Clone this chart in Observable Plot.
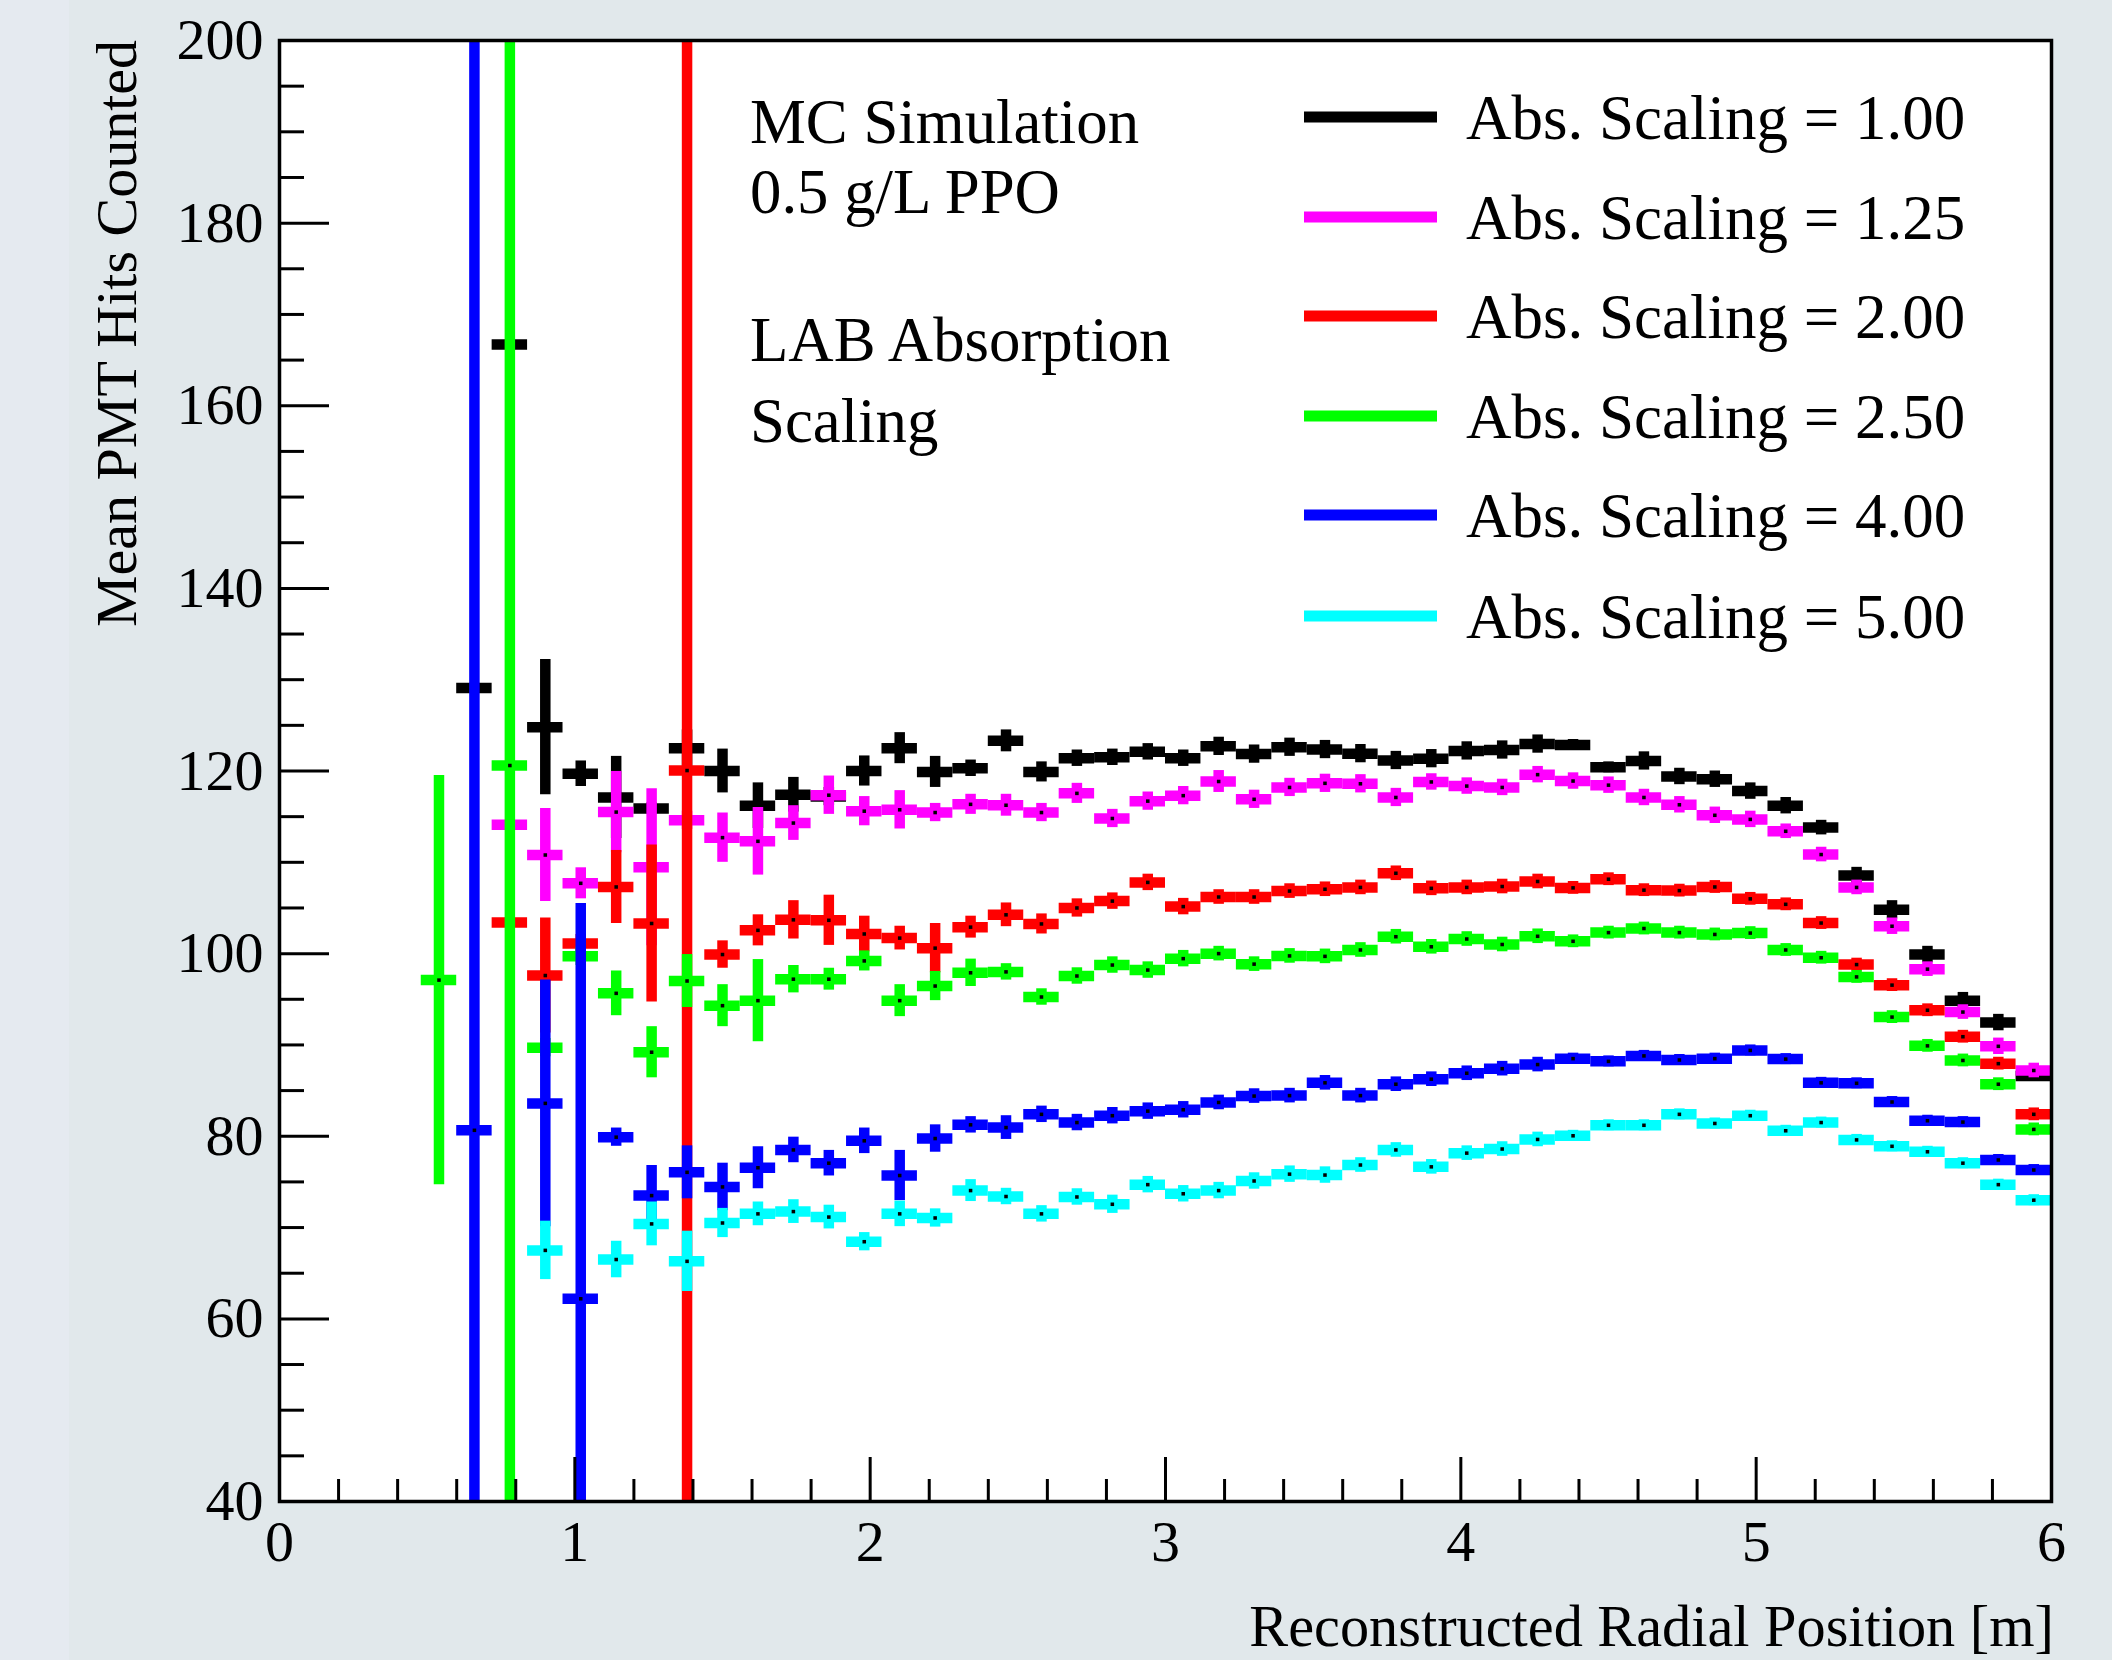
<!DOCTYPE html>
<html>
<head>
<meta charset="utf-8">
<script src="https://cdn.jsdelivr.net/npm/d3@7"></script>
<script src="https://cdn.jsdelivr.net/npm/@observablehq/plot@0.6"></script>
<style>
  html, body { margin: 0; padding: 0; background: #e1e8eb; }
  #chart { width: 2112px; height: 1660px; }
</style>
</head>
<body>
<div id="chart"></div>
<script>
// ---- data ----
const binCenters = [0.54,0.66,0.78,0.90,1.02,1.14,1.26,1.38,1.50,1.62,1.74,1.86,1.98,2.10,2.22,2.34,2.46,2.58,2.70,2.82,2.94,3.06,3.18,3.30,3.42,3.54,3.66,3.78,3.90,4.02,4.14,4.26,4.38,4.50,4.62,4.74,4.86,4.98,5.10,5.22,5.34,5.46,5.58,5.70,5.82,5.94];
const binHalfWidth = 0.06;

const seriesLabels = ["Abs. Scaling = 1.00","Abs. Scaling = 1.25","Abs. Scaling = 2.00","Abs. Scaling = 2.50","Abs. Scaling = 4.00","Abs. Scaling = 5.00"];
const seriesColors = ["#000000","#ff00ff","#ff0000","#00ff00","#0000ff","#00ffff"];

const hits100 = [null,129.1,166.7,124.8,119.7,117.1,115.9,122.5,120.0,116.2,117.4,117.2,120.0,122.5,119.9,120.3,123.3,119.9,121.4,121.5,122.1,121.4,122.7,121.85,122.6,122.35,121.9,121.15,121.35,122.2,122.3,122.95,122.85,120.4,121.1,119.4,119.1,117.8,116.2,113.8,108.55,104.8,99.9,94.85,92.45,86.6];
const err100  = [null,0.5,0.5,7.4,1.4,4.5,0.6,2.0,2.4,2.5,1.9,1.0,1.65,1.7,1.7,0.9,1.2,1.1,0.9,0.9,0.9,0.9,1.0,1.0,1.0,1.0,1.0,1.0,1.0,1.0,1.0,1.0,0.6,0.6,1.0,0.9,0.9,0.9,0.9,0.8,0.9,1.0,0.9,0.9,0.9,0.6];

const hits125 = [null,null,114.1,110.8,107.7,115.5,109.45,114.6,112.7,112.3,114.3,117.35,115.6,115.75,115.45,116.35,116.25,115.45,117.55,114.8,116.7,117.3,118.85,116.9,118.2,118.65,118.6,117.1,118.8,118.35,118.2,119.6,118.9,118.45,117.1,116.3,115.15,114.7,113.4,110.85,107.25,103.0,98.3,93.6,89.85,87.2];
const err125  = [null,null,0.5,5.1,1.7,4.45,8.6,1.0,2.7,3.7,1.9,2.1,1.6,2.1,1.0,1.1,1.2,1.0,1.1,1.0,1.0,1.0,1.2,1.0,1.0,1.0,1.0,1.0,0.9,0.9,0.9,0.9,0.9,0.9,0.9,0.9,0.9,0.9,0.8,0.8,0.8,0.9,0.8,0.8,0.9,0.8];

const hits200 = [null,null,103.4,97.6,101.1,107.3,103.3,120.05,99.9,102.55,103.7,103.65,102.15,101.7,100.6,102.9,104.25,103.25,105.0,105.75,107.8,105.15,106.2,106.2,106.85,107.05,107.25,108.8,107.15,107.25,107.35,107.9,107.2,108.15,106.95,106.9,107.3,106.0,105.4,103.35,98.8,96.55,93.8,90.9,87.95,82.4];
const err200  = [null,null,0.5,6.3,1.0,4.0,8.6,200,1.5,1.7,2.1,2.75,1.95,1.3,2.7,1.2,1.3,1.1,1.0,0.9,0.9,0.9,0.8,0.8,0.8,0.8,0.8,0.8,0.8,0.8,0.8,0.8,0.7,0.7,0.7,0.7,0.7,0.7,0.7,0.7,0.7,0.7,0.7,0.7,0.7,0.7];

const hits250 = [97.1,null,120.6,89.7,99.7,95.65,89.2,97.0,94.3,94.85,97.2,97.2,99.2,94.85,96.45,97.9,98.0,95.25,97.55,98.75,98.2,99.45,100.0,98.85,99.75,99.7,100.4,101.85,100.75,101.6,101.0,101.9,101.35,102.3,102.75,102.3,102.1,102.25,100.4,99.55,97.45,93.05,89.9,88.3,85.7,80.75];
const err250  = [22.4,null,200,1.0,1.0,2.45,2.8,2.9,2.3,4.5,1.5,1.2,1.1,1.75,1.6,1.5,0.9,0.9,0.9,0.9,0.9,0.9,0.8,0.8,0.8,0.8,0.8,0.8,0.8,0.8,0.8,0.8,0.7,0.7,0.7,0.7,0.7,0.7,0.7,0.7,0.7,0.7,0.7,0.7,0.7,0.7];

const hits400 = [null,80.65,null,83.6,62.2,79.9,73.5,76.05,74.45,76.55,78.5,77.05,79.5,75.7,79.75,81.25,80.95,82.4,81.5,82.25,82.75,82.9,83.7,84.4,84.45,85.85,84.45,85.7,86.25,86.9,87.4,87.85,88.5,88.2,88.8,88.35,88.5,89.4,88.45,85.85,85.8,83.75,81.7,81.55,77.4,76.3];
const err400  = [null,200,null,13.5,43.3,1.0,3.3,2.9,2.6,2.3,1.4,1.4,1.4,2.75,1.5,0.9,1.3,0.9,0.9,0.9,0.9,0.9,0.8,0.8,0.8,0.8,0.8,0.8,0.8,0.8,0.8,0.8,0.6,0.6,0.6,0.6,0.6,0.6,0.6,0.6,0.6,0.6,0.6,0.6,0.6,0.6];

const hits500 = [null,null,null,67.5,null,66.5,70.4,66.3,70.5,71.5,71.75,71.15,68.45,71.5,71.05,74.05,73.4,71.5,73.35,72.55,74.7,73.7,74.05,75.1,75.85,75.75,76.85,78.5,76.65,78.15,78.6,79.65,80.05,81.2,81.2,82.4,81.4,82.25,80.6,81.5,79.6,78.9,78.3,77.05,74.7,73.0];
const err500  = [null,null,null,3.2,null,2.0,2.4,3.3,1.6,1.3,1.3,1.3,1.0,1.4,1.0,1.2,0.9,0.9,0.9,1.0,0.9,0.9,0.9,0.9,0.9,0.9,0.8,0.8,0.8,0.8,0.8,0.8,0.6,0.6,0.6,0.6,0.6,0.6,0.6,0.6,0.6,0.6,0.6,0.6,0.6,0.6];

const xTicks = [0,1,2,3,4,5,6];
const xMinorTicks = [0.2,0.4,0.6,0.8,1.2,1.4,1.6,1.8,2.2,2.4,2.6,2.8,3.2,3.4,3.6,3.8,4.2,4.4,4.6,4.8,5.2,5.4,5.6,5.8];
const yTicks = [40,60,80,100,120,140,160,180,200];
const yMinorTicks = [45,50,55,65,70,75,85,90,95,105,110,115,125,130,135,145,150,155,165,170,175,185,190,195];

const annotationLines = ["MC Simulation","0.5 g/L PPO","LAB Absorption","Scaling"];
const xTitle = "Reconstructed Radial Position [m]";
const yTitle = "Mean PMT Hits Counted";

// ---- build tables ----
const xDomain = [0, 6], yDomain = [40, 200];
const seriesValues = [hits100, hits125, hits200, hits250, hits400, hits500];
const seriesErrors = [err100, err125, err200, err250, err400, err500];

function rowsFor(k) {
  const rows = [];
  seriesValues[k].forEach((v, i) => {
    if (v == null) return;
    const e = seriesErrors[k][i];
    const x = binCenters[i];
    rows.push({x, v, x1: x - binHalfWidth, x2: x + binHalfWidth,
      lo: Math.max(yDomain[0], v - e), hi: Math.min(yDomain[1], v + e)});
  });
  return rows;
}

const LW = 10.5;
const marks = [Plot.frame({fill: "white", stroke: null})];
seriesLabels.forEach((lab, k) => {
  const rows = rowsFor(k);
  marks.push(Plot.ruleY(rows, {y: "v", x1: "x1", x2: "x2", stroke: seriesColors[k], strokeWidth: LW}));
  marks.push(Plot.ruleX(rows, {x: "x", y1: "lo", y2: "hi", stroke: seriesColors[k], strokeWidth: LW}));
  marks.push(Plot.dot(rows, {x: "x", y: "v", symbol: "square", r: 2, fill: "black", stroke: null}));
});
marks.push(
  Plot.axisX(xTicks, {tickSize: 0, tickPadding: 18, fontSize: 58, label: null, tickFormat: d => String(d)}),
  Plot.axisX(xTicks, {tickSize: -44, tickFormat: () => "", label: null, strokeWidth: 3}),
  Plot.axisX(xMinorTicks, {tickSize: -22, tickFormat: () => "", label: null, strokeWidth: 3}),
  Plot.axisY(yTicks, {tickSize: 0, tickPadding: 16, fontSize: 58, label: null, tickFormat: d => String(d)}),
  Plot.axisY(yTicks, {tickSize: -50, tickFormat: () => "", label: null, strokeWidth: 3}),
  Plot.axisY(yMinorTicks, {tickSize: -25, tickFormat: () => "", label: null, strokeWidth: 3}),
  Plot.frame({stroke: "black", strokeWidth: 3.5})
);

const W = 2112, H = 1660;
const mL = 279, mR = 61, mT = 40, mB = 159;
const chart = Plot.plot({
  width: W, height: H,
  marginLeft: mL, marginRight: mR, marginTop: mT, marginBottom: mB,
  x: {domain: xDomain},
  y: {domain: yDomain},
  style: {background: "#e1e8eb", fontFamily: "'Liberation Serif','Times New Roman',serif", fontSize: "58px", color: "black"},
  marks
});

const svg = d3.select(chart);
svg.insert("rect", ":first-child").attr("x", 0).attr("y", 0).attr("width", 69).attr("height", H).attr("fill", "#e5eaf0");

const font = "'Liberation Serif','Times New Roman',serif";
const overlay = svg.append("g").attr("text-anchor", "start").attr("font-family", font).attr("fill", "black");
// axis titles
overlay.append("text").attr("transform", `translate(136,${mT}) rotate(-90)`)
  .attr("text-anchor", "end").attr("font-size", 58).text(yTitle);
overlay.append("text").attr("x", W - mR + 3).attr("y", 1646)
  .attr("text-anchor", "end").attr("font-size", 58.3).text(xTitle);

// annotation
const annBaselines = [143, 213, 361, 442];
annotationLines.forEach((t, i) => {
  overlay.append("text").attr("x", 750).attr("y", annBaselines[i])
    .attr("text-anchor", "start").attr("font-size", 62.8).text(t);
});

// legend
const legendRowY = [117, 217, 316, 416, 515, 616];
seriesLabels.forEach((lab, k) => {
  overlay.append("line").attr("x1", 1304).attr("x2", 1437).attr("y1", legendRowY[k]).attr("y2", legendRowY[k])
    .attr("stroke", seriesColors[k]).attr("stroke-width", 11);
  overlay.append("text").attr("x", 1466).attr("y", legendRowY[k] + 21.5)
    .attr("text-anchor", "start").attr("font-size", 63).text(lab);
});

document.getElementById("chart").appendChild(chart);
</script>
</body>
</html>
